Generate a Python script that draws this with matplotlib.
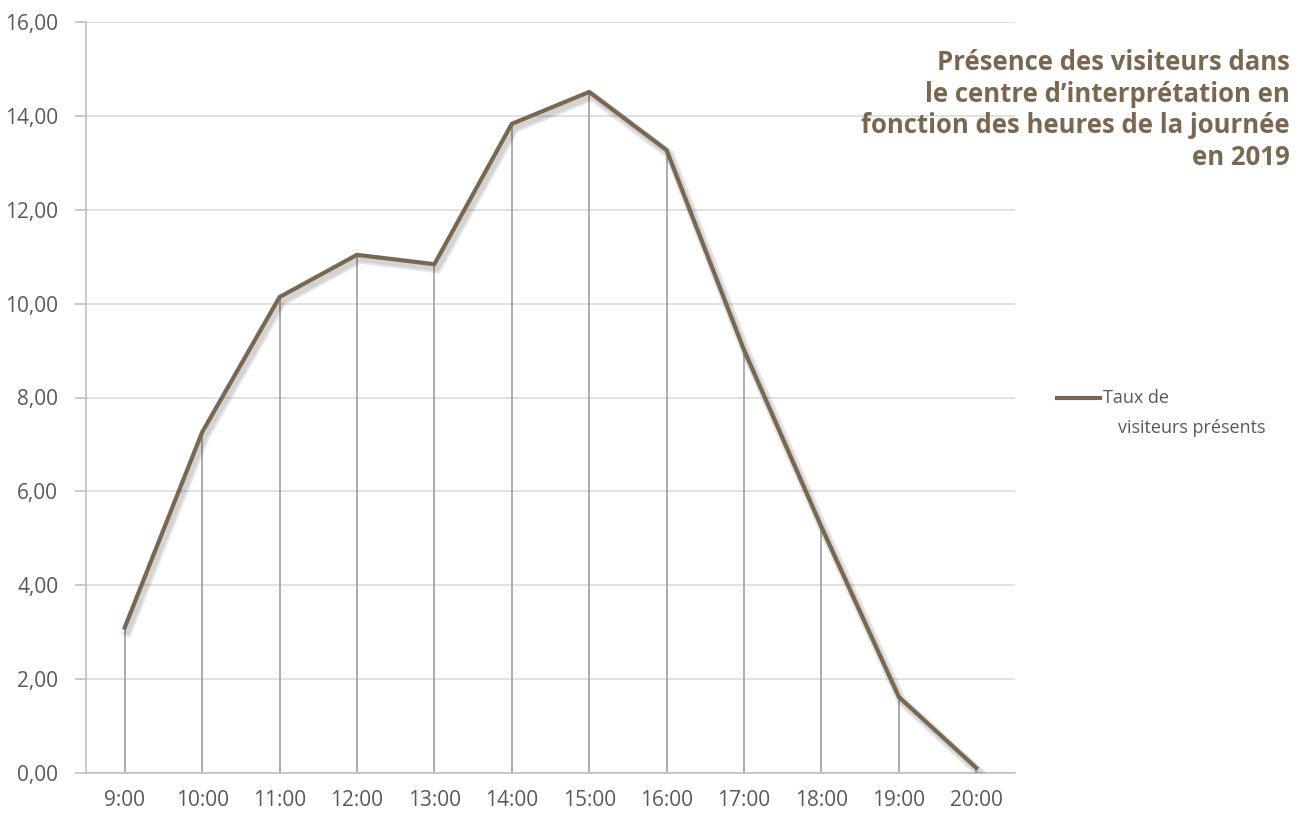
import matplotlib
matplotlib.use("Agg")
import matplotlib.pyplot as plt
import matplotlib.patheffects as pe
from matplotlib.lines import Line2D
from matplotlib.ticker import FuncFormatter

hours = ["9:00", "10:00", "11:00", "12:00", "13:00", "14:00", "15:00", "16:00",
         "17:00", "18:00", "19:00", "20:00"]
taux = [3.10, 7.26, 10.14, 11.04, 10.84, 13.83, 14.51, 13.27, 9.01, 5.24, 1.62, 0.11]
series_label = "Taux de\nvisiteurs présents"
title = "Présence des visiteurs dans\nle centre d\u2019interprétation en\nfonction des heures de la journée\nen 2019"
yticks = [0, 2, 4, 6, 8, 10, 12, 14, 16]

line_color = "#7a6751"
label_color = "#595959"

plt.rcParams['font.family'] = ['Open Sans', 'DejaVu Sans']

fig = plt.figure(figsize=(13.04, 8.18), dpi=100)
ax = fig.add_axes([86/1304, 45/818, (1015-86)/1304, (773-22)/818])

x = list(range(len(hours)))

ax.set_ylim(0, 16)
ax.set_xlim(-0.5, len(hours) - 0.5)
ax.set_yticks(yticks)
ax.yaxis.set_major_formatter(FuncFormatter(lambda v, p: f"{v:.2f}".replace(".", ",")))
ax.grid(axis='y', color="#d9d9d9", linewidth=1.1, zorder=0)
ax.set_axisbelow(True)

ax.vlines(x, 0, taux, colors="#a6a6a6", linewidth=1.3, zorder=1)

ax.plot(x, taux, color=line_color, linewidth=3.0, solid_joinstyle='miter', zorder=3,
        path_effects=[pe.SimpleLineShadow(offset=(2, -3), shadow_color="#000000", alpha=0.10,
                                          linewidth=7),
                      pe.SimpleLineShadow(offset=(2, -3), shadow_color="#000000", alpha=0.08,
                                          linewidth=4),
                      pe.Normal()])

ax.set_xticks(x)
ax.set_xticklabels(hours)
for s in ["top", "right"]:
    ax.spines[s].set_visible(False)
ax.spines["left"].set_color("#bfbfbf")
ax.spines["bottom"].set_color("#bfbfbf")
ax.spines["left"].set_linewidth(1.2)
ax.spines["bottom"].set_linewidth(1.2)
ax.tick_params(axis='y', colors="#bfbfbf", labelcolor=label_color, labelsize=15,
               length=8, width=1.2, pad=12)
ax.tick_params(axis='x', length=0, labelcolor=label_color, labelsize=15, pad=12)

fig.text(1290/1304, 1 - 49/818, title, ha='right', va='top', fontsize=18.5,
         fontweight='bold', color=line_color, linespacing=1.22,
         family=['Open Sans', 'DejaVu Sans'])

fig.add_artist(Line2D([1057/1304, 1100/1304], [1 - 398/818, 1 - 398/818],
                      color=line_color, linewidth=3.0, transform=fig.transFigure))
fig.text(1103/1304, 1 - 398/818, "Taux de", ha='left', va='center', fontsize=13,
         color=label_color)
fig.text(1118/1304, 1 - 428/818, "visiteurs présents", ha='left', va='center', fontsize=13,
         color=label_color)

fig.savefig("out.png", dpi=100)
